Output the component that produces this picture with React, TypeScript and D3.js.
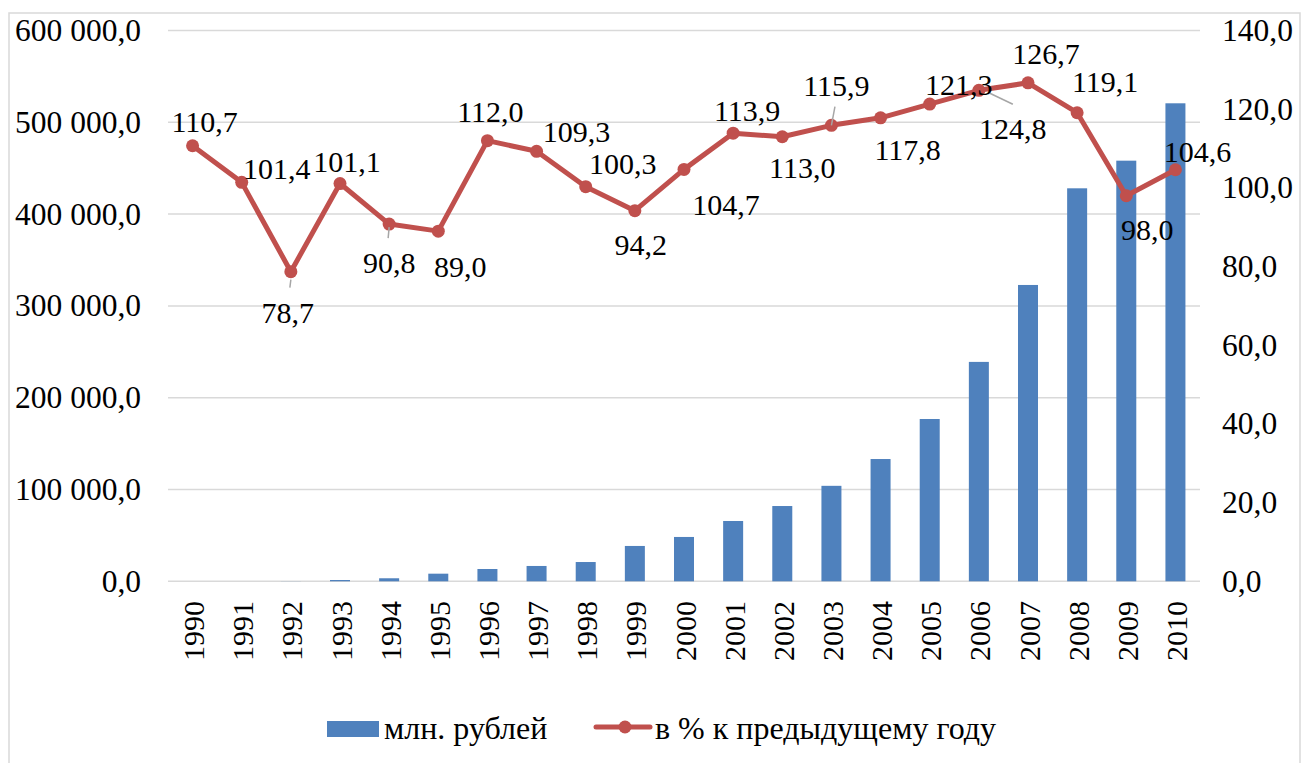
import React, { useEffect, useRef } from 'react';
import * as d3 from 'd3';

// Data
const years = [
  '1990', '1991', '1992', '1993', '1994', '1995', '1996', '1997', '1998', '1999', '2000',
  '2001', '2002', '2003', '2004', '2005', '2006', '2007', '2008', '2009', '2010',
];
const millionRub = [
  0, 0, 100, 1400, 3300, 8300, 13400, 16700, 21000, 38500, 48300,
  65700, 82000, 104000, 133200, 176800, 239000, 322800, 428100, 458200, 520700,
];
const pctPrevYear = [
  110.7, 101.4, 78.7, 101.1, 90.8, 89.0, 112.0, 109.3, 100.3, 94.2, 104.7,
  113.9, 113.0, 115.9, 117.8, 121.3, 124.8, 126.7, 119.1, 98.0, 104.6,
];
const leftTicks = [0, 100000, 200000, 300000, 400000, 500000, 600000];
const rightTicks = [0, 20, 40, 60, 80, 100, 120, 140];
const barLabel = 'млн. рублей';
const lineLabel = 'в % к предыдущему году';

// Label placement (offset of label centre from the point), and leader lines
const labelOffsets = [
  [12, -24], [35, -14], [-3, 41], [7, -22], [0, 38], [22, 35], [3, -29],
  [40, -20], [37, -23], [6, 34], [42, 35], [14, -23], [20, 31], [5, -40],
  [27, 32], [29, -20], [34, 38], [18, -29], [28, -31], [21, 34], [22, -18],
];
const leaders = {
  2: [0, 8, -1, 16],
  4: [0, 3, -1, 14],
  13: [0, 0, 3.5, -18.6],
  16: [11, 3, 34, 14],
};

const W = 1303;
const H = 763;
const FONT = 'Liberation Serif';

function Chart() {
  const ref = useRef(null);

  useEffect(() => {
    const svg = d3.select(ref.current);
    svg.selectAll('*').remove();

    const left = 168;
    const right = 1200;
    const top = 30.5;
    const bottom = 581.3;

    const locale = d3.formatLocale({ decimal: ',', thousands: ' ', grouping: [3], currency: ['', ''] });
    const fmt = locale.format(',.1f');

    const x = d3.scaleBand().domain(years).range([left, right]).paddingInner(0).paddingOuter(0);
    const yL = d3.scaleLinear().domain([0, 600000]).range([bottom, top]);
    const yR = d3.scaleLinear().domain([0, 140]).range([bottom, top]);

    // chart border
    svg.append('rect')
      .attr('x', 9).attr('y', 13)
      .attr('width', 1291).attr('height', 760)
      .attr('fill', 'white')
      .attr('stroke', '#d9d9d9')
      .attr('stroke-width', 1.5);

    // gridlines
    svg.append('g')
      .selectAll('line')
      .data(leftTicks)
      .enter()
      .append('line')
      .attr('x1', left).attr('x2', right)
      .attr('y1', d => yL(d)).attr('y2', d => yL(d))
      .attr('stroke', '#d9d9d9')
      .attr('stroke-width', 1.5);

    // left axis labels
    svg.append('g')
      .selectAll('text')
      .data(leftTicks)
      .enter()
      .append('text')
      .text(d => fmt(d))
      .attr('x', 141)
      .attr('y', d => yL(d))
      .attr('text-anchor', 'end')
      .attr('dominant-baseline', 'central')
      .style('font-family', FONT)
      .style('font-size', '31.5px');

    // right axis labels
    svg.append('g')
      .selectAll('text')
      .data(rightTicks)
      .enter()
      .append('text')
      .text(d => fmt(d))
      .attr('x', 1222)
      .attr('y', d => yR(d))
      .attr('text-anchor', 'start')
      .attr('dominant-baseline', 'central')
      .style('font-family', FONT)
      .style('font-size', '31.5px');

    // year labels
    svg.append('g')
      .selectAll('text')
      .data(years)
      .enter()
      .append('text')
      .text(d => d)
      .attr('transform', d => `translate(${x(d) + x.bandwidth() / 2 + 1}, 601) rotate(-90)`)
      .attr('text-anchor', 'end')
      .attr('dominant-baseline', 'central')
      .style('font-family', FONT)
      .style('font-size', '30px');

    // bars
    const barW = 20;
    svg.append('g')
      .selectAll('rect')
      .data(millionRub)
      .enter()
      .append('rect')
      .attr('x', (d, i) => x(years[i]) + x.bandwidth() / 2 - barW / 2)
      .attr('y', d => yL(d))
      .attr('width', barW)
      .attr('height', d => bottom - yL(d))
      .attr('fill', '#4f81bd');

    // line
    const cx = i => x(years[i]) + x.bandwidth() / 2;
    const line = d3.line()
      .x((d, i) => cx(i))
      .y(d => yR(d));

    svg.append('path')
      .datum(pctPrevYear)
      .attr('d', line)
      .attr('fill', 'none')
      .attr('stroke', '#c0504d')
      .attr('stroke-width', 5)
      .attr('stroke-linejoin', 'round');

    svg.append('g')
      .selectAll('circle')
      .data(pctPrevYear)
      .enter()
      .append('circle')
      .attr('cx', (d, i) => cx(i))
      .attr('cy', d => yR(d))
      .attr('r', 6.5)
      .attr('fill', '#c0504d');

    // leader lines
    Object.keys(leaders).forEach(k => {
      const i = +k;
      const [x1, y1, x2, y2] = leaders[i];
      svg.append('line')
        .attr('x1', cx(i) + x1).attr('y1', yR(pctPrevYear[i]) + y1)
        .attr('x2', cx(i) + x2).attr('y2', yR(pctPrevYear[i]) + y2)
        .attr('stroke', '#a6a6a6')
        .attr('stroke-width', 1.5);
    });

    // data labels
    svg.append('g')
      .selectAll('text')
      .data(pctPrevYear)
      .enter()
      .append('text')
      .text(d => fmt(d))
      .attr('x', (d, i) => cx(i) + labelOffsets[i][0])
      .attr('y', (d, i) => yR(d) + labelOffsets[i][1])
      .attr('text-anchor', 'middle')
      .attr('dominant-baseline', 'central')
      .style('font-family', FONT)
      .style('font-size', '30px');

    // legend
    const lg = svg.append('g');
    lg.append('rect')
      .attr('x', 327).attr('y', 721)
      .attr('width', 52).attr('height', 16)
      .attr('fill', '#4f81bd');
    lg.append('text')
      .text(barLabel)
      .attr('x', 384).attr('y', 739)
      .style('font-family', FONT)
      .style('font-size', '32px');
    lg.append('line')
      .attr('x1', 596).attr('x2', 650)
      .attr('y1', 727).attr('y2', 727)
      .attr('stroke', '#c0504d')
      .attr('stroke-width', 5)
      .attr('stroke-linecap', 'round');
    lg.append('circle')
      .attr('cx', 625).attr('cy', 727)
      .attr('r', 6.5)
      .attr('fill', '#c0504d');
    lg.append('text')
      .text(lineLabel)
      .attr('x', 655).attr('y', 739)
      .style('font-family', FONT)
      .style('font-size', '32px');
  }, []);

  return <svg ref={ref} width={W} height={H} style={{ position: 'absolute', left: 0, top: 0 }} />;
}

export default function App() {
  return <Chart />;
}
